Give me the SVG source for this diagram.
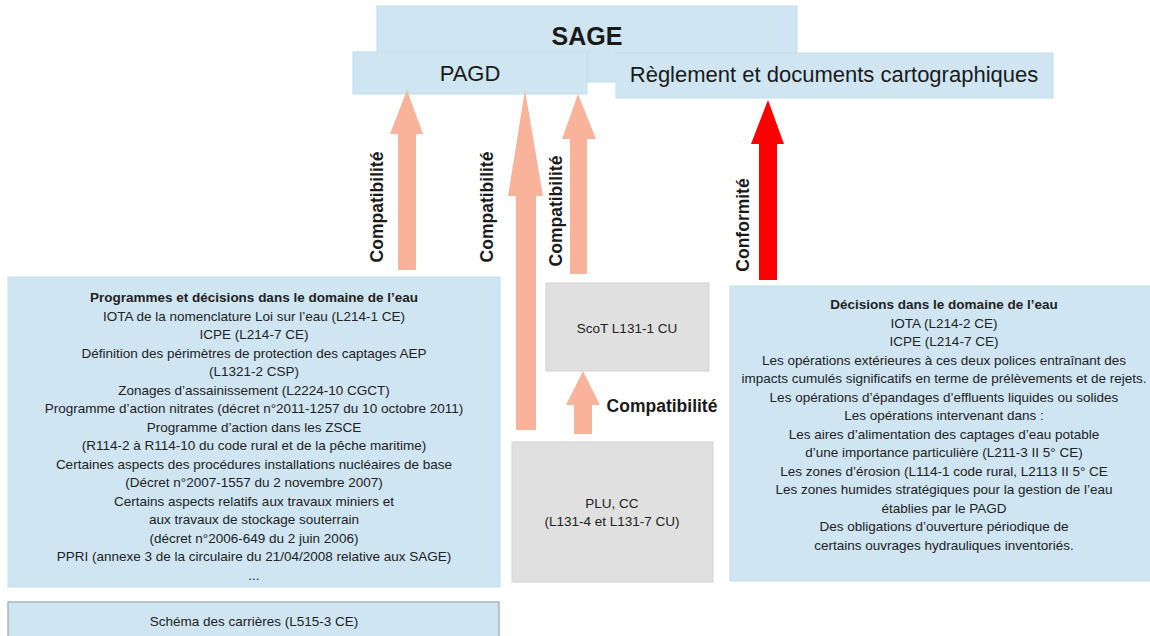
<svg xmlns="http://www.w3.org/2000/svg" width="1150" height="636" viewBox="0 0 1150 636">
<style>
.blue{fill:#cfe5f2;stroke:#c3dbea;stroke-width:1}
.gray{fill:#e0e0e0;stroke:#d2d2d2;stroke-width:1}
.sal{fill:#f9b39a}
.red{fill:#ff0000}
text{font-family:"Liberation Sans",Arial,sans-serif;fill:#1a1a1a;text-anchor:middle}
.big{font-size:25px;font-weight:bold}
.hd{font-size:22px}
.lbl{font-size:17.5px;font-weight:bold}
.sm{font-family:"Liberation Sans Narrow","Liberation Sans",sans-serif;font-size:13.5px;fill:#222}
.smb{font-weight:bold}
</style>
<g id="sage"><rect class="blue" x="377" y="6" width="420" height="76"/><text class="big" x="587" y="45">SAGE</text></g>
<g id="pagd"><rect class="blue" x="353" y="52" width="234" height="42"/><text class="hd" x="470" y="81">PAGD</text></g>
<g id="reglement"><rect class="blue" x="616" y="53" width="437" height="45"/><text class="hd" x="834" y="82">Règlement et documents cartographiques</text></g>
<g id="connectors">
<polygon class="sal" points="407,90 423,134 416,134 416,270 398,270 398,134 390,134"/>
<polygon class="sal" points="525,90 543,196 536,196 536,430 516,430 516,196 508,196"/>
<polygon class="sal" points="578,94 596,139 587,139 587,274 570,274 570,139 562,139"/>
<polygon class="red" points="768,100 784,144 777,144 777,280 759,280 759,144 751,144"/>
<polygon class="sal" points="583,371 600,405 592,405 592,434 574,434 574,405 566,405"/>
<text class="lbl" transform="translate(383,207) rotate(-90)">Compatibilité</text>
<text class="lbl" transform="translate(493,207) rotate(-90)">Compatibilité</text>
<text class="lbl" transform="translate(562,211) rotate(-90)">Compatibilité</text>
<text class="lbl" transform="translate(749,225) rotate(-90)">Conformité</text>
<text class="lbl" x="662" y="412">Compatibilité</text>
</g>
<g id="programmes"><rect class="blue" x="8" y="277" width="492" height="310"/>
<text class="sm" x="254" y="302"><tspan class="smb">Programmes et décisions dans le domaine de l’eau</tspan><tspan x="254" dy="18.5">IOTA de la nomenclature Loi sur l’eau (L214-1 CE)</tspan><tspan x="254" dy="18.5">ICPE (L214-7 CE)</tspan><tspan x="254" dy="18.5">Définition des périmètres de protection des captages AEP</tspan><tspan x="254" dy="18.5">(L1321-2 CSP)</tspan><tspan x="254" dy="18.5">Zonages d’assainissement (L2224-10 CGCT)</tspan><tspan x="254" dy="18.5">Programme d’action nitrates (décret n°2011-1257 du 10 octobre 2011)</tspan><tspan x="254" dy="18.5">Programme d’action dans les ZSCE</tspan><tspan x="254" dy="18.5">(R114-2 à R114-10 du code rural et de la pêche maritime)</tspan><tspan x="254" dy="18.5">Certaines aspects des procédures installations nucléaires de base</tspan><tspan x="254" dy="18.5">(Décret n°2007-1557 du 2 novembre 2007)</tspan><tspan x="254" dy="18.5">Certains aspects relatifs aux travaux miniers et</tspan><tspan x="254" dy="18.5">aux travaux de stockage souterrain</tspan><tspan x="254" dy="18.5">(décret n°2006-649 du 2 juin 2006)</tspan><tspan x="254" dy="18.5">PPRI (annexe 3 de la circulaire du 21/04/2008 relative aux SAGE)</tspan><tspan x="254" dy="18.5">...</tspan></text></g>
<g id="carrieres"><rect x="8" y="602" width="491" height="40" fill="#cfe5f2" stroke="#a9b4bb" stroke-width="1.5"/><text class="sm" x="254" y="626">Schéma des carrières (L515-3 CE)</text></g>
<g id="scot"><rect class="gray" x="546" y="283" width="163" height="88"/><text class="sm" x="627" y="333">ScoT L131-1 CU</text></g>
<g id="plu"><rect class="gray" x="512" y="442" width="201" height="140"/><text class="sm" x="612" y="508">PLU, CC<tspan x="612" dy="18">(L131-4 et L131-7 CU)</tspan></text></g>
<g id="decisions"><rect class="blue" x="730" y="286" width="422" height="295"/>
<text class="sm" x="944" y="309"><tspan class="smb">Décisions dans le domaine de l’eau</tspan><tspan x="944" dy="18.5">IOTA (L214-2 CE)</tspan><tspan x="944" dy="18.5">ICPE (L214-7 CE)</tspan><tspan x="944" dy="18.5">Les opérations extérieures à ces deux polices entraînant des</tspan><tspan x="944" dy="18.5">impacts cumulés significatifs en terme de prélèvements et de rejets.</tspan><tspan x="944" dy="18.5">Les opérations d’épandages d’effluents liquides ou solides</tspan><tspan x="944" dy="18.5">Les opérations intervenant dans :</tspan><tspan x="944" dy="18.5">Les aires d’alimentation des captages d’eau potable</tspan><tspan x="944" dy="18.5">d’une importance particulière (L211-3 II 5° CE)</tspan><tspan x="944" dy="18.5">Les zones d’érosion (L114-1 code rural, L2113 II 5° CE</tspan><tspan x="944" dy="18.5">Les zones humides stratégiques pour la gestion de l’eau</tspan><tspan x="944" dy="18.5">établies par le PAGD</tspan><tspan x="944" dy="18.5">Des obligations d’ouverture périodique de</tspan><tspan x="944" dy="18.5">certains ouvrages hydrauliques inventoriés.</tspan></text></g>
</svg>
